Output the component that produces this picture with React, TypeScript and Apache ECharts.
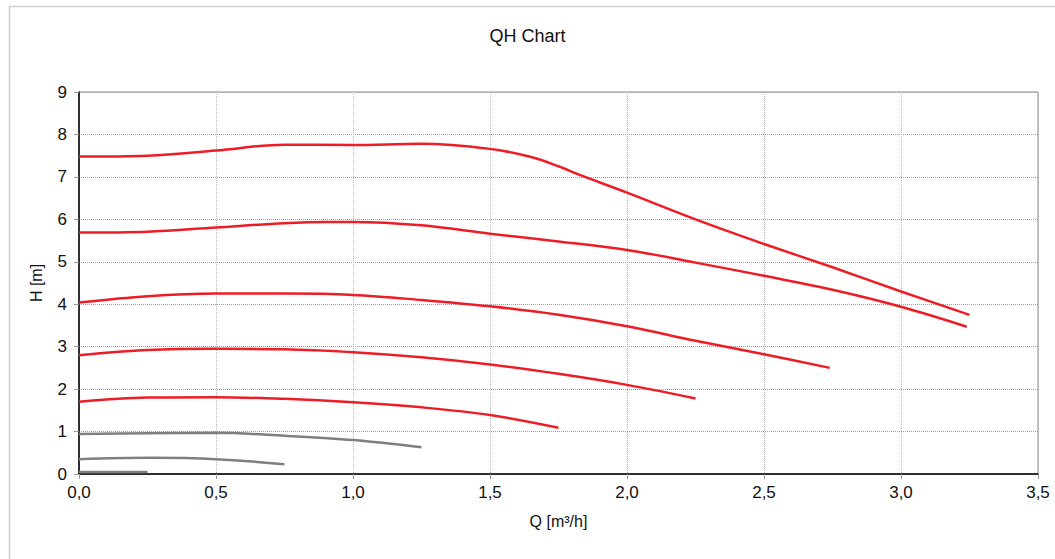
import React, { useEffect, useRef } from "react";
import * as echarts from "echarts";

const q1 = [0, 0.25, 0.5, 0.75, 1.0, 1.25, 1.5, 1.65, 1.75, 1.83, 2.0, 2.25, 2.5, 2.75, 3.0, 3.25];
const h1 = [7.48, 7.5, 7.62, 7.76, 7.75, 7.78, 7.66, 7.47, 7.25, 7.04, 6.63, 6.0, 5.42, 4.87, 4.3, 3.75];
const q2 = [0, 0.25, 0.5, 0.75, 0.9, 1.0, 1.25, 1.5, 1.75, 2.0, 2.25, 2.5, 2.75, 3.0, 3.24];
const h2 = [5.69, 5.71, 5.81, 5.91, 5.94, 5.94, 5.86, 5.66, 5.48, 5.28, 4.98, 4.67, 4.34, 3.94, 3.47];
const q3 = [0, 0.25, 0.5, 0.75, 1.0, 1.25, 1.5, 1.75, 2.0, 2.25, 2.5, 2.74];
const h3 = [4.04, 4.19, 4.25, 4.25, 4.22, 4.1, 3.95, 3.75, 3.48, 3.14, 2.82, 2.5];
const q4 = [0, 0.25, 0.5, 0.75, 1.0, 1.25, 1.5, 1.75, 2.0, 2.25];
const h4 = [2.8, 2.92, 2.95, 2.94, 2.87, 2.75, 2.58, 2.36, 2.1, 1.78];
const q5 = [0, 0.25, 0.5, 0.75, 1.0, 1.25, 1.5, 1.75];
const h5 = [1.7, 1.8, 1.81, 1.77, 1.69, 1.57, 1.39, 1.09];
const q6 = [0, 0.25, 0.5, 0.75, 1.0, 1.25];
const h6 = [0.94, 0.96, 0.97, 0.9, 0.8, 0.63];
const q7 = [0, 0.25, 0.5, 0.75];
const h7 = [0.35, 0.38, 0.35, 0.23];
const q8 = [0, 0.25];
const h8 = [0.05, 0.05];

const RED = "#ee1d25";
const GRAY = "#7f7f7f";

const curves = [
  { q: q1, h: h1, color: RED },
  { q: q2, h: h2, color: RED },
  { q: q3, h: h3, color: RED },
  { q: q4, h: h4, color: RED },
  { q: q5, h: h5, color: RED },
  { q: q6, h: h6, color: GRAY },
  { q: q7, h: h7, color: GRAY },
  { q: q8, h: h8, color: GRAY },
];

const FONT = "'Liberation Sans', Arial, sans-serif";

export default function App() {
  const ref = useRef<HTMLDivElement>(null);
  useEffect(() => {
    if (!ref.current) return;
    const chart = echarts.init(ref.current, undefined, { renderer: "svg" });
    chart.setOption({
      animation: false,
      backgroundColor: "#ffffff",
      textStyle: { fontFamily: FONT },
      title: {
        text: "QH Chart",
        left: "center",
        top: 22,
        textStyle: { fontFamily: FONT, fontSize: 18, fontWeight: "normal", color: "#111" },
      },
      graphic: [
        {
          type: "rect",
          left: 7,
          top: 4,
          shape: { width: 1100, height: 600 },
          style: { fill: "none", stroke: "#cfcfcf", lineWidth: 1.5 },
          silent: true,
        },
      ],
      grid: {
        left: 79,
        top: 92,
        right: 17,
        bottom: 85,
        show: true,
        borderColor: "#8a8a8a",
        borderWidth: 1,
      },
      xAxis: {
        type: "value",
        min: 0,
        max: 3.5,
        interval: 0.5,
        name: "Q [m³/h]",
        nameLocation: "middle",
        nameGap: 39,
        nameTextStyle: { fontFamily: FONT, fontSize: 16, color: "#111" },
        axisLine: { show: true, onZero: false, lineStyle: { color: "#000", width: 1.5 } },
        axisTick: { show: true, length: 5, lineStyle: { color: "#999" } },
        axisLabel: {
          fontFamily: FONT,
          fontSize: 17,
          color: "#111",
          margin: 10,
          formatter: (v: number) => v.toFixed(1).replace(".", ","),
        },
        splitLine: { show: true, lineStyle: { color: "#b5b5b5", type: "dotted", width: 1 } },
      },
      yAxis: {
        type: "value",
        min: 0,
        max: 9,
        interval: 1,
        name: "H [m]",
        nameLocation: "middle",
        nameRotate: 90,
        nameGap: 35,
        nameTextStyle: { fontFamily: FONT, fontSize: 16, color: "#111" },
        axisLine: { show: true, onZero: false, lineStyle: { color: "#000", width: 1.5 } },
        axisTick: { show: true, length: 5, lineStyle: { color: "#999" } },
        axisLabel: { fontFamily: FONT, fontSize: 17, color: "#111", margin: 12 },
        splitLine: { show: true, lineStyle: { color: "#a0a0a0", type: "dotted", width: 1 } },
      },
      series: curves.map((c, i) => ({
        type: "line",
        name: "c" + (i + 1),
        data: c.q.map((q, j) => [q, c.h[j]]),
        smooth: 0.35,
        showSymbol: false,
        symbol: "none",
        lineStyle: { color: c.color, width: 2.5 },
        itemStyle: { color: c.color },
        z: 10 - i,
      })),
    });
    return () => chart.dispose();
  }, []);
  return (
    <div
      ref={ref}
      style={{ position: "fixed", left: 0, top: 0, width: 1055, height: 559, background: "#fff" }}
    />
  );
}
